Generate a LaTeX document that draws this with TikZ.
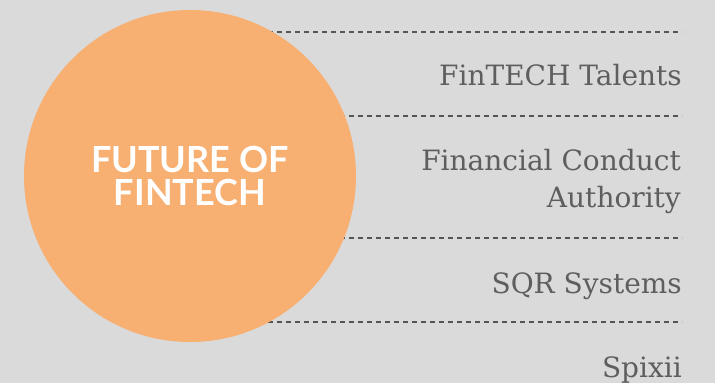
\documentclass[tikz,border=0pt]{standalone}
\usepackage{fontspec}
\usepackage{xcolor}
\usepackage{tikz}
\newfontfamily\titlefont{Lato}
\newfontfamily\namefont{DejaVu Serif}

\definecolor{bggray}{HTML}{DADADA}
\definecolor{futorange}{HTML}{F7AF72}
\definecolor{namegray}{HTML}{5E5E5E}
\definecolor{dashgray}{HTML}{555555}

\tikzset{
  sepline/.style={draw=dashgray, line width=1.1pt, dash pattern=on 5pt off 4pt},
  partner/.style={anchor=base east, inner sep=0pt, text=namegray,
    font=\namefont\fontsize{28}{37}\selectfont, align=right},
}

\begin{document}
\begin{tikzpicture}[x=1pt,y=-1pt]
    \fill[bggray] (0,0) rectangle (715,383);
    \useasboundingbox (0,0) rectangle (715,383);
    %
    \coordinate (s1a) at (250,32);  \coordinate (s1b) at (682,32);
    \coordinate (s2a) at (250,116); \coordinate (s2b) at (682,116);
    \coordinate (s3a) at (250,238); \coordinate (s3b) at (682,238);
    \coordinate (s4a) at (250,322); \coordinate (s4b) at (682,322);
    \draw[sepline] (s1a) -- (s1b);
    \draw[sepline] (s2a) -- (s2b);
    \draw[sepline] (s3a) -- (s3b);
    \draw[sepline] (s4a) -- (s4b);
    %
    \node[circle, fill=futorange, minimum size=332pt, inner sep=0pt,
      text=white, align=center,
      font=\titlefont\bfseries\fontsize{36}{33}\selectfont] (future) at (190,176)
      {FUTURE OF\\FINTECH};
    %
    \node[partner] (talents) at (682,85) {FinTECH Talents};
    \node[partner] (fca) at (681,207) {Financial Conduct\\Authority};
    \node[partner] (sqr) at (682,293) {SQR Systems};
    \node[partner] (spixii) at (682,377) {Spixii};
  \end{tikzpicture}
\end{document}
